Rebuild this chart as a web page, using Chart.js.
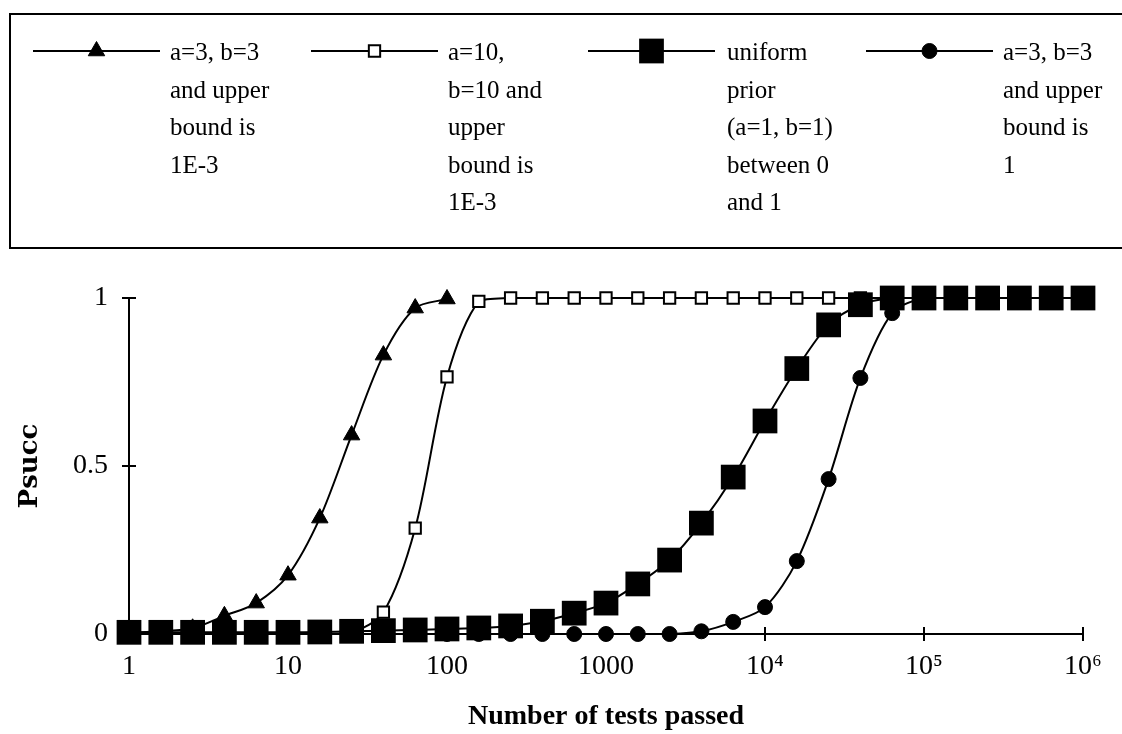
<!DOCTYPE html>
<html>
<head>
<meta charset="utf-8">
<script src="https://cdn.jsdelivr.net/npm/chart.js@4.4.0/dist/chart.umd.min.js"></script>
<style>
    html, body { margin: 0; padding: 0; background: #fff; }
    #wrap { width: 1122px; height: 734px; position: relative; }
</style>
</head>
<body>
<div id="wrap"><canvas id="chart"></canvas></div>
<script>
// Number of tests passed (five points per decade)
const testsPassed = [1, 1.585, 2.512, 3.981, 6.31, 10, 15.85, 25.12, 39.81, 63.1,
    100, 158.5, 251.2, 398.1, 631, 1000, 1585, 2512, 3981, 6310,
    10000, 15850, 25120, 39810, 63100, 100000, 158500, 251200, 398100, 631000, 1000000];

// Psucc for each prior
const triangleSeries = [0.003, 0.008, 0.017, 0.054, 0.092, 0.175, 0.345, 0.592, 0.83, 0.97, 0.997];
const openSquareSeries = [0, 0, 0, 0, 0, 0, 0, 0.004, 0.065, 0.315, 0.765, 0.99, 1, 1, 1, 1,
    1, 1, 1, 1, 1, 1, 1, 1, 1, 1, 1, 1, 1, 1, 1];
const filledSquareSeries = [0.005, 0.005, 0.005, 0.005, 0.005, 0.005, 0.006, 0.008, 0.01, 0.012,
    0.015, 0.018, 0.024, 0.038, 0.062, 0.092, 0.149, 0.22, 0.33, 0.467, 0.634, 0.79, 0.92, 0.98,
    1, 1, 1, 1, 1, 1, 1];
const circleSeries = [0, 0, 0, 0, 0, 0, 0, 0, 0, 0, 0, 0, 0, 0, 0, 0, 0, 0, 0.008, 0.036,
    0.08, 0.217, 0.461, 0.762, 0.955, 1, 1, 1, 1, 1, 1];

const seriesLabels = [
    ['a=3, b=3', 'and upper', 'bound is', '1E-3'],
    ['a=10,', 'b=10 and', 'upper', 'bound is', '1E-3'],
    ['uniform', 'prior', '(a=1, b=1)', 'between 0', 'and 1'],
    ['a=3, b=3', 'and upper', 'bound is', '1']
];

const xTickValues = [1, 10, 100, 1000, 10000, 100000, 1000000];
const xTickLabels = ['1', '10', '100', '1000', '10\u2074', '10\u2075', '10\u2076'];
const yTickValues = [0, 0.5, 1];
const yTickLabels = ['0', '0.5', '1'];

const serif = "'Liberation Serif', 'Times New Roman', serif";

const toPoints = (ys) => ys.map((y, i) => ({ x: testsPassed[i], y: y }));

// marker styles used both for the plot and the legend
const markerStyles = [
    { pointStyle: 'triangle', radius: 9.5, bg: '#000', border: '#000', bw: 1 },
    { pointStyle: 'rect', radius: 8, bg: '#fff', border: '#000', bw: 2 },
    { pointStyle: 'rect', radius: 17.5, bg: '#000', border: '#000', bw: 0 },
    { pointStyle: 'circle', radius: 7.5, bg: '#000', border: '#000', bw: 1 }
];

function makeDataset(data, idx, order) {
    const m = markerStyles[idx];
    return {
        label: seriesLabels[idx].join(' '),
        data: toPoints(data),
        borderColor: '#000',
        borderWidth: 2,
        pointStyle: m.pointStyle,
        pointRadius: m.radius,
        pointBackgroundColor: m.bg,
        pointBorderColor: m.border,
        pointBorderWidth: m.bw,
        tension: 0.3,
        clip: false,
        order: order
    };
}

// Legend box drawn above the plot
const boxLegend = {
    id: 'boxLegend',
    afterDraw(chart) {
        const ctx = chart.ctx;
        ctx.save();
        ctx.strokeStyle = '#000';
        ctx.lineWidth = 2;
        ctx.strokeRect(10, 14, 1130, 234);

        const lineStarts = [33, 311, 588, 866];
        const textStarts = [170, 448, 727, 1003];
        const lineY = 51;
        ctx.font = '25px ' + serif;
        ctx.fillStyle = '#000';
        ctx.textBaseline = 'alphabetic';
        seriesLabels.forEach((lines, i) => {
            const x0 = lineStarts[i];
            const x1 = x0 + 127;
            ctx.beginPath();
            ctx.moveTo(x0, lineY);
            ctx.lineTo(x1, lineY);
            ctx.lineWidth = 2;
            ctx.strokeStyle = '#000';
            ctx.stroke();
            const m = markerStyles[i];
            ctx.fillStyle = m.bg;
            ctx.strokeStyle = m.border;
            ctx.lineWidth = m.bw;
            Chart.helpers.drawPoint(ctx, { pointStyle: m.pointStyle, radius: m.radius, borderWidth: m.bw }, (x0 + x1) / 2, lineY);
            ctx.fillStyle = '#000';
            lines.forEach((t, j) => {
                ctx.fillText(t, textStarts[i], lineY + 9 + j * 37.5);
            });
        });
        ctx.restore();
    }
};

// Tick marks that cross the axis lines
const crossTicks = {
    id: 'crossTicks',
    afterDatasetsDraw(chart) {
        const ctx = chart.ctx;
        const xs = chart.scales.x, ys = chart.scales.y;
        const area = chart.chartArea;
        ctx.save();
        ctx.strokeStyle = '#000';
        ctx.lineWidth = 2;
        xTickValues.forEach(v => {
            const px = xs.getPixelForValue(v);
            ctx.beginPath();
            ctx.moveTo(px, area.bottom);
            ctx.lineTo(px, area.bottom - 7);
            ctx.stroke();
        });
        yTickValues.forEach(v => {
            const py = ys.getPixelForValue(v);
            ctx.beginPath();
            ctx.moveTo(area.left, py);
            ctx.lineTo(area.left + 7, py);
            ctx.stroke();
        });
        ctx.restore();
    }
};

let chart;
try {
    const ctx = document.getElementById('chart');
    chart = new Chart(ctx.getContext('2d'), {
        type: 'line',
        data: {
            datasets: [
                makeDataset(triangleSeries, 0, 3),
                makeDataset(openSquareSeries, 1, 2),
                makeDataset(filledSquareSeries, 2, 1),
                makeDataset(circleSeries, 3, 0)
            ]
        },
        options: {
            responsive: true,
            maintainAspectRatio: false,
            animation: false,
            layout: { padding: { top: 298, right: 39, left: 0, bottom: 0 } },
            plugins: { legend: { display: false }, tooltip: { enabled: false } },
            scales: {
                x: {
                    type: 'logarithmic',
                    min: 1,
                    max: 1000000,
                    afterBuildTicks: axis => { axis.ticks = xTickValues.map(v => ({ value: v })); },
                    afterFit: axis => { axis.height = 100; },
                    grid: { drawOnChartArea: false, color: '#000', lineWidth: 2, tickLength: 7 },
                    border: { color: '#000', width: 2 },
                    ticks: {
                        autoSkip: false,
                        maxRotation: 0,
                        color: '#000',
                        padding: 9,
                        font: { family: serif, size: 28 },
                        callback: (v) => xTickLabels[xTickValues.indexOf(v)]
                    },
                    title: {
                        display: true,
                        text: 'Number of tests passed',
                        color: '#000',
                        font: { family: serif, size: 28, weight: 'bold' },
                        padding: { top: 2, bottom: 0 }
                    }
                },
                y: {
                    min: 0,
                    max: 1,
                    afterBuildTicks: axis => { axis.ticks = yTickValues.map(v => ({ value: v })); },
                    afterFit: axis => { axis.width = 129; },
                    grid: { drawOnChartArea: false, color: '#000', lineWidth: 2, tickLength: 7 },
                    border: { color: '#000', width: 2 },
                    ticks: {
                        color: '#000',
                        padding: 14,
                        font: { family: serif, size: 28 },
                        callback: (v) => yTickLabels[yTickValues.indexOf(v)]
                    },
                    title: {
                        display: true,
                        text: 'Psucc',
                        color: '#000',
                        font: { family: "'DejaVu Serif', serif", size: 26, weight: 'bold' },
                        padding: { top: 15, bottom: 0 }
                    }
                }
            }
        },
        plugins: [boxLegend, crossTicks]
    });
} catch (error) {
    console.error('Error initializing chart:', error);
}
</script>
</body>
</html>
